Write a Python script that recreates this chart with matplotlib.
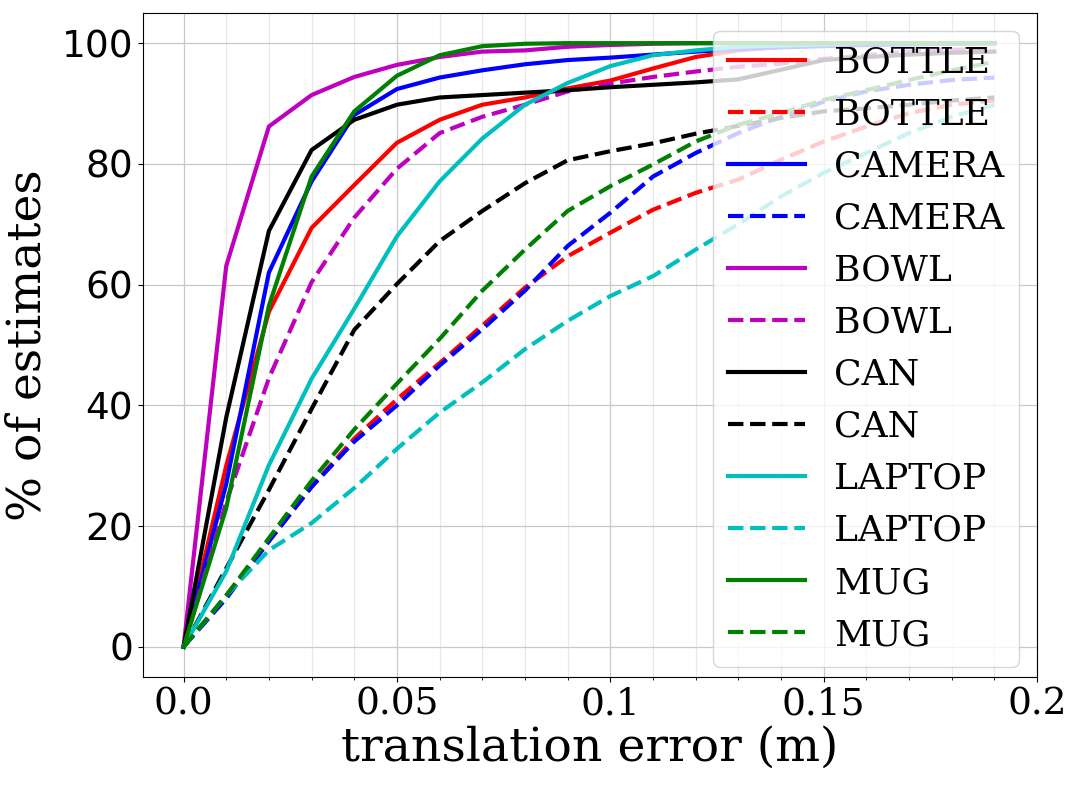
import numpy as np
import matplotlib
matplotlib.use('Agg')
import matplotlib.pyplot as plt
from matplotlib.ticker import MultipleLocator

x = [0.0, 0.01, 0.02, 0.03, 0.04, 0.05, 0.06, 0.07, 0.08, 0.09,
     0.10, 0.11, 0.12, 0.13, 0.14, 0.15, 0.16, 0.17, 0.18, 0.19]

bottle = [0, 30, 55.5, 69.4, 76.5, 83.5, 87.3, 89.8, 91.0, 92.5,
          93.8, 95.8, 97.7, 98.8, 99.4, 99.7, 99.9, 100, 100, 100]
bottle_d = [0, 8.5, 17.5, 26.5, 34.5, 41.0, 47.0, 53.2, 59.5, 64.7,
            68.6, 72.4, 75.2, 77.4, 80.7, 83.7, 86.2, 88.4, 89.8, 90.5]
camera = [0, 27, 62.0, 77.1, 88.1, 92.4, 94.3, 95.5, 96.5, 97.2,
          97.6, 98.1, 98.6, 99.0, 99.3, 99.5, 99.7, 99.8, 99.9, 100]
camera_d = [0, 8, 17.5, 26.5, 34.0, 40.0, 46.6, 52.6, 59.0, 66.4,
            71.9, 77.9, 81.8, 85.1, 87.8, 90.3, 92.0, 93.1, 93.9, 94.3]
bowl = [0, 63.1, 86.2, 91.4, 94.4, 96.4, 97.7, 98.6, 98.8, 99.4,
        99.7, 99.9, 100, 100, 100, 100, 100, 100, 100, 100]
bowl_d = [0, 24, 44.5, 60.4, 71.1, 79.2, 85.1, 87.8, 89.8, 92.0,
          93.3, 94.4, 95.3, 96.1, 96.6, 97.4, 98.0, 98.6, 98.9, 99.1]
can = [0, 38, 68.9, 82.3, 87.3, 89.8, 91.0, 91.4, 91.8, 92.2,
       92.7, 93.1, 93.5, 94.0, 95.6, 97.2, 97.7, 98.1, 98.4, 98.6]
can_d = [0, 13, 26, 39.4, 52.5, 60.1, 67.2, 72.2, 76.8, 80.6,
         82.1, 83.4, 85.0, 86.3, 87.6, 88.7, 89.2, 89.8, 90.5, 91.0]
laptop = [0, 12.5, 30.1, 44.4, 56.0, 68.0, 77.1, 84.2, 89.8, 93.4,
          96.2, 98.0, 98.8, 99.4, 99.6, 99.8, 100, 100, 100, 100]
laptop_d = [0, 8.5, 16, 20.5, 26.3, 32.8, 38.8, 43.8, 49.3, 54.0,
            58.1, 61.4, 65.8, 70.0, 74.6, 78.5, 81.8, 85.1, 87.8, 89.8]
mug = [0, 23, 56.5, 77.9, 88.7, 94.6, 98.0, 99.5, 99.9, 100,
       100, 100, 100, 100, 100, 100, 100, 100, 100, 100]
mug_d = [0, 8.5, 18, 27.5, 36.0, 43.6, 51.0, 59.0, 65.8, 72.2,
         76.3, 79.9, 83.7, 86.5, 88.4, 90.6, 92.2, 93.9, 95.5, 96.9]

series = [('BOTTLE', 'r', bottle, bottle_d),
          ('CAMERA', 'b', camera, camera_d),
          ('BOWL', 'm', bowl, bowl_d),
          ('CAN', 'k', can, can_d),
          ('LAPTOP', 'c', laptop, laptop_d),
          ('MUG', 'g', mug, mug_d)]

fig = plt.figure(figsize=(10.77, 7.86), dpi=100)
ax = fig.add_subplot(111)
fig.subplots_adjust(left=0.1328, right=0.9629, top=0.9835, bottom=0.1387)

for name, col, solid, dashed in series:
    ax.plot(x, solid, color=col, lw=3, label=name)
    ax.plot(x, dashed, color=col, lw=3, ls='--', label=name)

ax.xaxis.set_minor_locator(MultipleLocator(0.01))
ax.grid(which='major', color='#c8c8c8', lw=0.9)
ax.grid(which='minor', axis='x', color='#e8e8e8', lw=0.9)

ax.set_xticks([0, 0.05, 0.1, 0.15, 0.2])
ax.set_xticklabels(['0.0', '0.05', '0.1', '0.15', '0.2'], fontfamily='serif', fontsize=27)
ax.tick_params(axis='y', labelsize=27)
ax.set_xlabel('translation error (m)', fontfamily='serif', fontsize=34, labelpad=2)
ax.set_ylabel('% of estimates', fontfamily='serif', fontsize=34, labelpad=8)

ax.legend(loc='upper right', prop={'family': 'serif', 'size': 26}, handlelength=2.15)

plt.savefig('out.png', dpi=100)
